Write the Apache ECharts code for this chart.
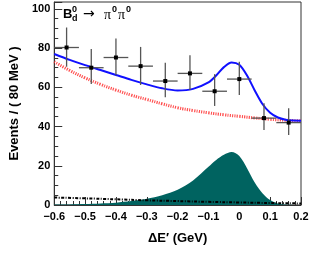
<!DOCTYPE html>
<html><head><meta charset="utf-8">
<script src="https://cdn.jsdelivr.net/npm/echarts@6/dist/echarts.min.js"></script>
<style>html,body{margin:0;padding:0;background:#fff}#c{width:336px;height:256px}</style>
</head><body><div id="c"></div>
<script>
// data points (bin centers, values, error bounds)
const binX = [-0.56,-0.48,-0.40,-0.32,-0.24,-0.16,-0.08,0.00,0.08,0.16];
const binY = [80.3,70.0,75.2,70.8,63.2,67.1,58.0,64.2,44.3,42.0];
const errHi = [90.5,79.5,84.9,80.6,72.5,76.4,66.7,73.1,51.9,49.3];
const errLo = [70.5,61.7,66.2,61.2,54.9,58.6,50.5,56.1,38.3,35.7];
const binHalf = 0.04;
// total fit (blue)
const totX = [-0.6,-0.55,-0.5,-0.45,-0.4,-0.35,-0.3,-0.25,-0.2,-0.15,-0.1,-0.075,-0.05,-0.025,0,0.025,0.05,0.075,0.1,0.125,0.15,0.175,0.2];
const totY = [77.0,74.0,71.3,68.8,66.3,63.8,61.5,59.5,58.4,59.2,62.5,66.0,70.3,72.7,71.5,66.0,58.4,51.5,47.0,44.6,43.5,43.1,43.0];
// background (red dotted)
const bkgX = [-0.6,-0.55,-0.5,-0.45,-0.4,-0.35,-0.3,-0.25,-0.2,-0.15,-0.1,-0.05,0,0.05,0.1,0.15,0.2];
const bkgY = [73.0,68.6,64.8,61.5,58.6,56.0,53.8,51.6,49.6,48.2,47.0,46.0,45.2,44.4,43.7,43.2,42.9];
// signal (teal fill)
const sigX = [-0.6,-0.55,-0.5,-0.45,-0.4,-0.35,-0.3,-0.25,-0.2,-0.15,-0.1,-0.075,-0.05,-0.025,0,0.025,0.05,0.075,0.1,0.125,0.15,0.175,0.2];
const sigY = [0.2,0.3,0.5,0.8,1.2,2.0,3.2,5.0,7.8,12.5,19.5,23.0,25.6,27.0,25.0,18.8,11.5,6.0,2.5,0.8,0.2,0.05,0];
// other component (black dash-dot)
const othX = [-0.6,-0.5,-0.4,-0.3,-0.2,-0.1,0,0.1,0.2];
const othY = [3.8,3.4,2.9,2.4,2.0,1.6,1.3,1.0,0.8];
const xTicks = [-0.6,-0.5,-0.4,-0.3,-0.2,-0.1,0,0.1,0.2];
const yTicks = [0,20,40,60,80,100];

const zip = (a,b)=>a.map((v,i)=>[v,b[i]]);
const pts = binX.map((x,i)=>[x,binY[i],errLo[i],errHi[i]]);
const FONT = '"Liberation Sans", Arial, sans-serif';

const chart = echarts.init(document.getElementById('c'), null, {renderer:'canvas'});
chart.setOption({
  animation:false,
  grid:{left:49,right:35,top:2,bottom:51,show:true,borderColor:'#333',borderWidth:1,backgroundColor:'transparent'},
  xAxis:{type:'value',min:-0.6,max:0.2,interval:0.1,
    axisLine:{onZero:false,lineStyle:{color:'#333',width:1}},
    axisTick:{inside:true,length:8,lineStyle:{color:'#333'}},
    minorTick:{show:true,splitNumber:5,length:4,lineStyle:{color:'#333'}},
    splitLine:{show:false},
    axisLabel:{color:'#000',fontFamily:FONT,fontWeight:'bold',fontSize:11,margin:6,
      formatter:v=>{const r=Math.round(v*10)/10; return r===0?'0':(r<0?'\u2212'+Math.abs(r).toFixed(1):r.toFixed(1));}},
    name:'\u0394E\u2032 (GeV)',nameLocation:'middle',nameGap:27,
    nameTextStyle:{color:'#000',fontFamily:FONT,fontWeight:'bold',fontSize:13}},
  yAxis:{type:'value',min:0,max:103.5,interval:20,
    axisLine:{show:true,onZero:false,lineStyle:{color:'#333',width:1}},
    axisTick:{inside:true,length:8,lineStyle:{color:'#333'}},
    minorTick:{show:true,splitNumber:4,length:4,lineStyle:{color:'#333'}},
    splitLine:{show:false},
    axisLabel:{color:'#000',fontFamily:FONT,fontWeight:'bold',fontSize:11,margin:4,
      formatter:v=>yTicks.includes(Math.round(v*1000)/1000)?String(Math.round(v)):''},
    name:'Events / ( 80 MeV )',nameLocation:'middle',nameGap:29,
    nameTextStyle:{color:'#000',fontFamily:FONT,fontWeight:'bold',fontSize:13}},
  series:[
    {type:'line',data:zip(sigX,sigY),smooth:0.3,symbol:'none',z:1,
      lineStyle:{width:0},areaStyle:{color:'#006360',opacity:1}},
    {type:'line',data:zip(othX,othY),smooth:true,symbol:'none',z:2,
      lineStyle:{color:'#000',width:2,type:[3,1.5,1,1.5]}},
    {type:'line',data:zip(bkgX,bkgY),smooth:true,symbol:'none',z:3,
      lineStyle:{color:'rgba(255,50,50,0.85)',width:3,type:[1.2,1.2]}},
    {type:'line',data:zip(totX,totY),smooth:0.3,symbol:'none',z:4,
      lineStyle:{color:'#1010ff',width:2}},
    {type:'custom',z:5,data:pts,
      renderItem:(params,api)=>{
        const x=api.value(0),y=api.value(1),lo=api.value(2),hi=api.value(3);
        const c=api.coord([x,y]),cl=api.coord([x-binHalf,y]),cr=api.coord([x+binHalf,y]);
        const ct=api.coord([x,hi]),cb=api.coord([x,lo]);
        const st={stroke:'#555',lineWidth:1.3};
        return {type:'group',children:[
          {type:'line',shape:{x1:cl[0],y1:c[1],x2:cr[0],y2:c[1]},style:st},
          {type:'line',shape:{x1:c[0],y1:ct[1],x2:c[0],y2:cb[1]},style:st},
          {type:'rect',shape:{x:c[0]-2,y:c[1]-2,width:4,height:4},style:{fill:'#000'}}
        ]};
      }}
  ],
  graphic:[
    {type:'text',left:63,top:8,style:{text:'B',font:'bold 13px '+FONT,fill:'#000'}},
    {type:'text',left:72,top:5,style:{text:'0',font:'bold 9px '+FONT,fill:'#000'}},
    {type:'text',left:72,top:14,style:{text:'d',font:'bold 9px '+FONT,fill:'#000'}},
    {type:'text',left:83,top:7,style:{text:'\u2192',font:'14px "DejaVu Sans", sans-serif',fill:'#000'}},
    {type:'text',left:104,top:8,style:{text:'\u03c0',font:'14px "Liberation Serif", serif',fill:'#000'}},
    {type:'text',left:112,top:5,style:{text:'0',font:'bold 9px '+FONT,fill:'#000'}},
    {type:'text',left:118,top:8,style:{text:'\u03c0',font:'14px "Liberation Serif", serif',fill:'#000'}},
    {type:'text',left:126,top:5,style:{text:'0',font:'bold 9px '+FONT,fill:'#000'}}
  ]
});
</script></body></html>
